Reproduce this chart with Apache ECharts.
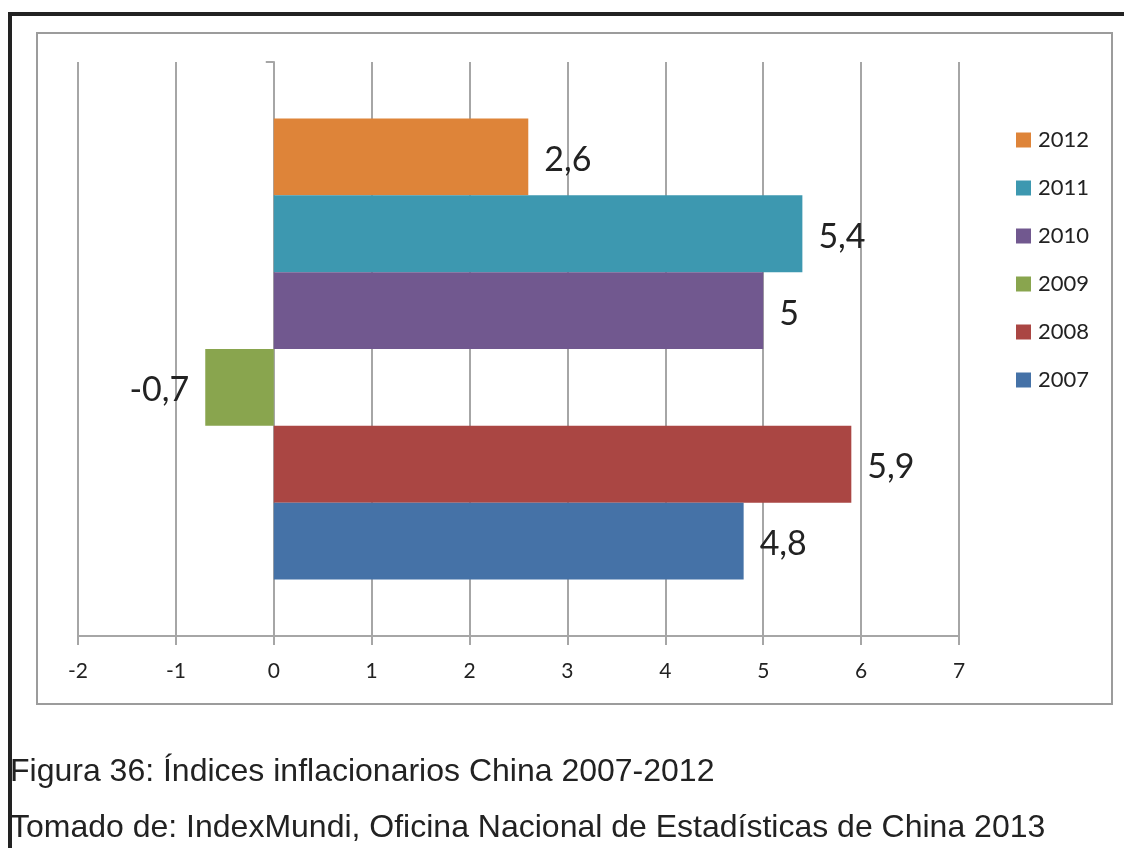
<!DOCTYPE html>
<html>
<head>
<meta charset="utf-8">
<script src="https://cdn.jsdelivr.net/npm/echarts@6/dist/echarts.min.js"></script>
<style>
  html, body { margin: 0; padding: 0; background: #fff; }
  #chart { width: 1124px; height: 848px; }
</style>
</head>
<body>
<div id="chart"></div>
<script>
// data (top bar first)
var years = ['2012', '2011', '2010', '2009', '2008', '2007']
var values = [2.6, 5.4, 5, -0.7, 5.9, 4.8]
var colors = ['#DE8439', '#3D98B0', '#71588F', '#89A54E', '#AA4643', '#4572A7']
var captions = [
  'Figura 36: Índices inflacionarios China 2007-2012',
  'Tomado de: IndexMundi, Oficina Nacional de Estadísticas de China 2013'
]

var chart = echarts.init(document.getElementById('chart'))

function fmt(v) {
  return String(v).replace('.', ',')
}

var series = years.map(function (y, i) {
  var v = values[i]
  return {
    name: y,
    type: 'bar',
    barGap: '0%',
    barCategoryGap: '19.7%',
    itemStyle: { color: colors[i] },
    label: {
      show: true,
      position: v < 0 ? 'left' : 'right',
      distance: 16,
      offset: [0, 3],
      fontSize: 34,
      fontFamily: 'Lato',
      color: '#222',
      formatter: function (p) { return fmt(p.value) }
    },
    data: [v]
  }
})

chart.setOption({
  animation: false,
  textStyle: { fontFamily: 'Lato' },
  grid: {
    left: 78,
    right: 165,
    top: 62,
    bottom: 212
  },
  legend: {
    orient: 'vertical',
    left: 1016,
    top: 129,
    padding: 0,
    itemWidth: 15,
    itemHeight: 15,
    itemGap: 26,
    icon: 'rect',
    data: years,
    textStyle: { fontSize: 22, color: '#222', fontFamily: 'Lato', padding: [0, 0, 0, 2] }
  },
  xAxis: {
    type: 'value',
    min: -2,
    max: 7,
    interval: 1,
    axisLine: { show: true, lineStyle: { color: '#A6A6A6', width: 2 } },
    axisTick: { show: true, length: 9, lineStyle: { color: '#A6A6A6', width: 2 } },
    axisLabel: { margin: 25, fontSize: 21, color: '#222', fontFamily: 'Lato' },
    splitLine: { show: true, lineStyle: { color: '#A6A6A6', width: 2 } }
  },
  yAxis: {
    type: 'category',
    data: [''],
    axisLine: { show: true, onZero: true, lineStyle: { color: '#A6A6A6', width: 2 } },
    axisTick: { show: true, length: 8, lineStyle: { color: '#A6A6A6', width: 2 } },
    axisLabel: { show: false }
  },
  graphic: [
    // black page frame
    { type: 'rect', shape: { x: 10, y: 14, width: 1130, height: 850 },
      style: { fill: 'none', stroke: '#222', lineWidth: 4 }, silent: true },
    // chart area border
    { type: 'rect', shape: { x: 37, y: 33, width: 1075, height: 671 },
      style: { fill: 'none', stroke: '#9C9C9C', lineWidth: 2 }, silent: true },
    { type: 'text', x: 10, y: 772,
      style: { text: captions[0], fontSize: 32, fontFamily: 'Liberation Sans', fill: '#222', verticalAlign: 'middle' } },
    { type: 'text', x: 10, y: 828,
      style: { text: captions[1], fontSize: 32, fontFamily: 'Liberation Sans', fill: '#222', verticalAlign: 'middle' } }
  ],
  series: series
})
</script>
</body>
</html>
